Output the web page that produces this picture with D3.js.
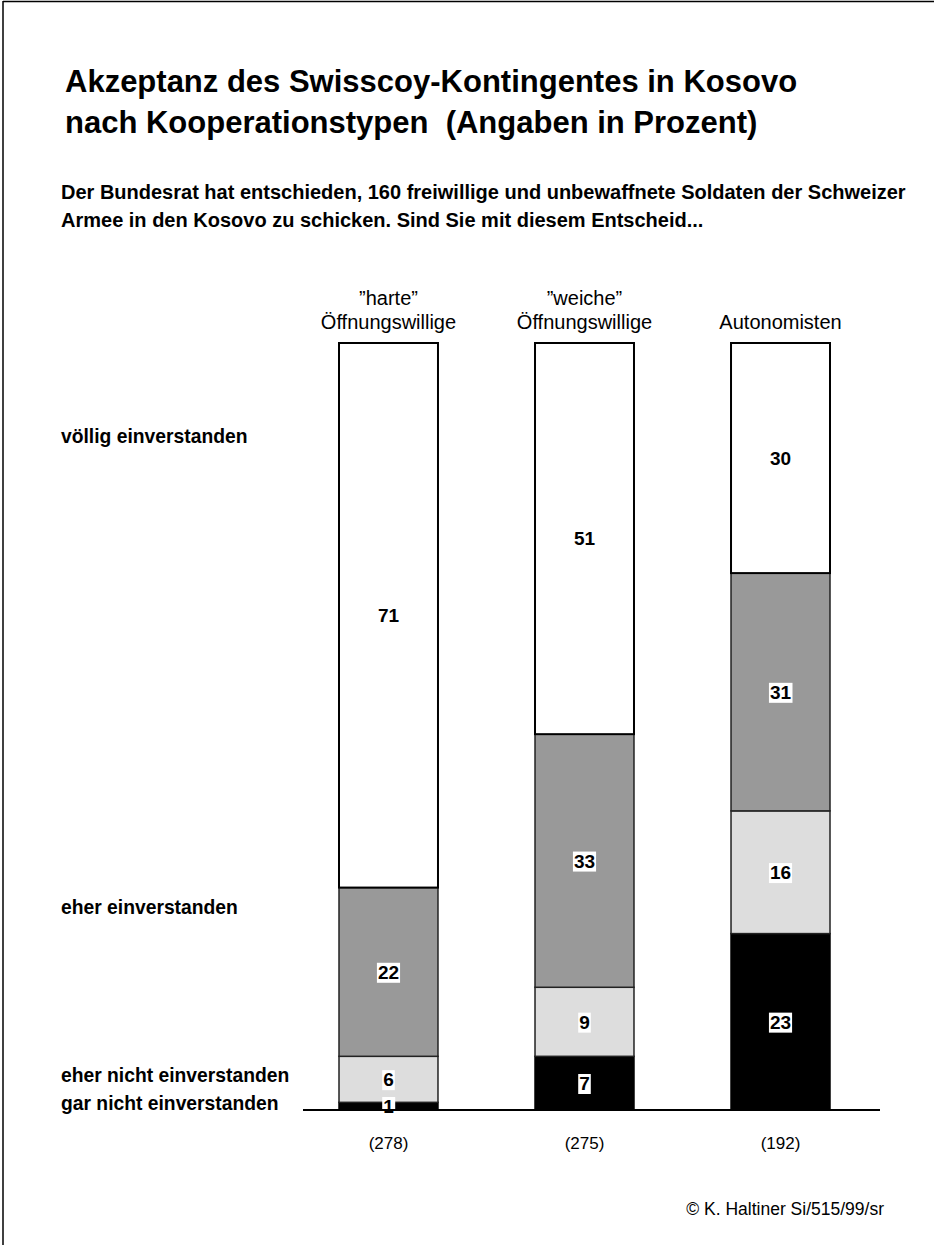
<!DOCTYPE html>
<html><head><meta charset="utf-8">
<script src="https://cdn.jsdelivr.net/npm/d3@7"></script>
<style>body{margin:0;background:#fff}svg{display:block;font-family:"Liberation Sans",Arial,sans-serif}</style>
</head><body>
<script>
const categories = ["harte", "weiche", "auto"];
const categoryLabels = [["\u201Dharte\u201D", "Öffnungswillige"], ["\u201Dweiche\u201D", "Öffnungswillige"], ["Autonomisten"]];
const sampleSizes = ["(278)", "(275)", "(192)"];
const seriesNames = ["gar nicht einverstanden", "eher nicht einverstanden", "eher einverstanden", "völlig einverstanden"];
const garNicht = [1, 7, 23];
const eherNicht = [6, 9, 16];
const eher = [22, 33, 31];
const voellig = [71, 51, 30];
const seriesColors = ["#000000", "#dddddd", "#999999", "#ffffff"];
const title = ["Akzeptanz des Swisscoy-Kontingentes in Kosovo", "nach Kooperationstypen  (Angaben in Prozent)"];
const subtitle = ["Der Bundesrat hat entschieden, 160 freiwillige und unbewaffnete Soldaten der Schweizer", "Armee in den Kosovo zu schicken. Sind Sie mit diesem Entscheid..."];
const credit = "© K. Haltiner Si/515/99/sr";

const W = 934, H = 1245;
const svg = d3.select("body").append("svg").attr("width", W).attr("height", H);

// page frame
svg.append("line").attr("x1", 3).attr("x2", W).attr("y1", 1.5).attr("y2", 1.5).attr("stroke", "#000").attr("stroke-width", 1.5);
svg.append("line").attr("x1", 3).attr("x2", 3).attr("y1", 1).attr("y2", H).attr("stroke", "#000").attr("stroke-width", 1.5);

svg.selectAll("text.title").data(title).join("text").attr("class", "title")
  .attr("x", 65).attr("y", (d, i) => 92 + i * 41)
  .attr("font-size", 31).attr("font-weight", "bold").attr("xml:space", "preserve").style("white-space", "pre").text(d => d);

svg.selectAll("text.sub").data(subtitle).join("text").attr("class", "sub")
  .attr("x", 61).attr("y", (d, i) => 199 + i * 28)
  .attr("font-size", 20).attr("font-weight", "bold").text(d => d);

const rows = categories.map((c, i) => ({cat: c, s0: garNicht[i], s1: eherNicht[i], s2: eher[i], s3: voellig[i]}));
const keys = ["s0", "s1", "s2", "s3"];
const stack = d3.stack().keys(keys)(rows);

const x = d3.scaleBand().domain(categories).range([339, 830]).paddingInner(0.495).paddingOuter(0);
const y = d3.scaleLinear().domain([0, 100]).range([1110, 343]);

const g = svg.append("g");
stack.forEach((layer, li) => {
  g.selectAll(null).data(layer).join("rect")
    .attr("x", d => x(d.data.cat)).attr("width", x.bandwidth())
    .attr("y", d => y(d[1])).attr("height", d => y(d[0]) - y(d[1]))
    .attr("fill", seriesColors[li])
    .attr("stroke", li === 0 ? "#000" : (li === 3 ? "#000" : "#222"))
    .attr("stroke-width", li === 3 ? 2 : 1.5);
});

// value labels
stack.forEach((layer, li) => {
  layer.forEach(d => {
    const cx = x(d.data.cat) + x.bandwidth() / 2;
    const cy = (y(d[0]) + y(d[1])) / 2;
    const v = d[1] - d[0];
    const t = svg.append("text").attr("x", cx).attr("y", cy).attr("dy", "0.36em")
      .attr("text-anchor", "middle").attr("font-size", 19).attr("font-weight", "bold").text(v);
    const bb = t.node().getBBox();
    svg.insert("rect", () => t.node()).attr("x", bb.x - 1).attr("y", bb.y + 1).attr("width", bb.width + 2).attr("height", bb.height - 1).attr("fill", "#fff");
  });
});

// baseline
svg.append("line").attr("x1", 303).attr("x2", 880).attr("y1", y(0)).attr("y2", y(0)).attr("stroke", "#000").attr("stroke-width", 2);

// category labels
categories.forEach((c, i) => {
  const lines = categoryLabels[i];
  const cx = x(c) + x.bandwidth() / 2;
  lines.forEach((l, j) => {
    svg.append("text").attr("x", cx).attr("y", 329 - (lines.length - 1 - j) * 24)
      .attr("text-anchor", "middle").attr("font-size", 20).text(l);
  });
  svg.append("text").attr("x", cx).attr("y", 1149).attr("text-anchor", "middle").attr("font-size", 17).text(sampleSizes[i]);
});

// series labels on left
const seriesLabelY = [1110, 1082, 914, 443];
seriesNames.forEach((n, i) => {
  svg.append("text").attr("x", 61).attr("y", seriesLabelY[i]).attr("font-size", 19.3).attr("font-weight", "bold").text(n);
});

svg.append("text").attr("x", 884).attr("y", 1215).attr("text-anchor", "end").attr("font-size", 17.5).text(credit);
</script>
</body></html>
